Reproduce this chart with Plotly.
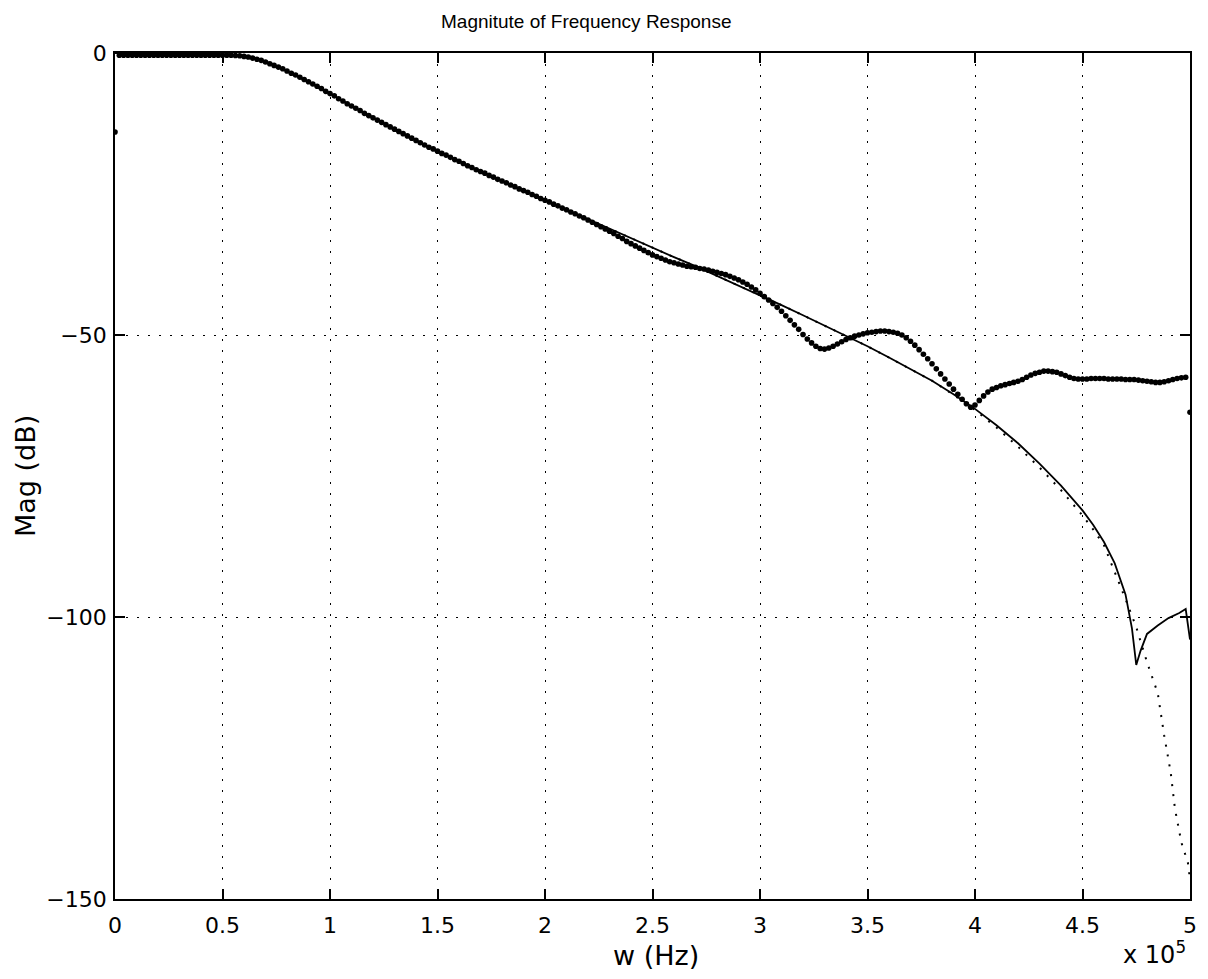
import plotly.graph_objects as go

# ---------------- data ----------------
# measured response: samples every 2 kHz from 0 to 500 kHz
meas_freq_khz = list(range(0, 501, 2))
meas_db = [
    -14.0,
    -0.4, -0.4, -0.4, -0.4, -0.4, -0.4, -0.4, -0.4, -0.4, -0.4,
    -0.4, -0.4, -0.4, -0.4, -0.4, -0.4, -0.4, -0.4, -0.4, -0.4,
    -0.4, -0.4, -0.4, -0.4, -0.4, -0.4, -0.4, -0.45,
    -0.5, -0.6, -0.7, -0.9, -1.1, -1.3, -1.6, -1.9, -2.2, -2.5,
    -2.8, -3.2, -3.6, -3.9, -4.3, -4.7, -5.1, -5.5, -5.9, -6.3,
    -6.8, -7.2,
    -7.6, -8.1, -8.5, -9.0, -9.4, -9.8, -10.2, -10.7, -11.1, -11.5,
    -11.9, -12.3, -12.7, -13.1, -13.5, -13.9, -14.3, -14.7, -15.1, -15.5,
    -15.9, -16.3, -16.7, -17.0, -17.4, -17.8, -18.1, -18.5, -18.9, -19.2,
    -19.6, -20.0, -20.3, -20.7, -21.0, -21.3, -21.7, -22.0, -22.4, -22.7,
    -23.0, -23.4, -23.7, -24.1, -24.4, -24.7, -25.1, -25.4, -25.8, -26.1,
    -26.4, -26.8, -27.1, -27.5, -27.8, -28.2, -28.5, -28.9, -29.2, -29.6,
    -30.0, -30.4, -30.8, -31.2, -31.6, -32.0, -32.5, -32.9, -33.4, -33.8,
    -34.2, -34.6, -35.0, -35.4, -35.8, -36.1, -36.4, -36.7, -37.0, -37.2,
    -37.4, -37.6, -37.8, -37.9, -38.0, -38.2, -38.3, -38.5, -38.7, -38.9,
    -39.1, -39.3, -39.6, -39.9, -40.2, -40.6, -41.0, -41.5, -42.0, -42.6,
    -43.2, -43.8, -44.4, -45.1, -45.8, -46.6, -47.4, -48.2, -49.0, -49.9,
    -50.7, -51.4, -52.0, -52.4, -52.5, -52.3, -52.0, -51.6, -51.2, -50.8,
    -50.5, -50.2, -50.0, -49.8, -49.6, -49.5, -49.4, -49.3, -49.3, -49.4,
    -49.5, -49.7, -50.0, -50.5, -51.1, -51.8, -52.6, -53.4, -54.2, -55.1,
    -56.0, -56.9, -57.8, -58.7, -59.6, -60.5, -61.4, -62.2, -62.8, -62.4,
    -61.6, -60.8, -60.1, -59.6, -59.3, -59.0, -58.8, -58.6, -58.4, -58.2,
    -57.9, -57.5, -57.1, -56.8, -56.6, -56.4, -56.4, -56.5, -56.6, -56.9,
    -57.2, -57.5, -57.7, -57.8, -57.8, -57.8, -57.7, -57.7, -57.7, -57.7,
    -57.8, -57.8, -57.8, -57.8, -57.9, -57.9, -57.9, -58.0, -58.1, -58.2,
    -58.3, -58.4, -58.4, -58.3, -58.1, -57.9, -57.7, -57.6, -57.5, -63.7,
]

# fitted model (solid line)
model_freq_khz = [0, 10, 20, 30, 40, 50, 55, 60, 65, 70, 75, 80, 85, 90, 95,
                  100, 110, 120, 130, 140, 150, 160, 170, 180, 190, 200, 210,
                  220, 230, 240, 250, 260, 270, 280, 290, 300, 310, 320, 330,
                  340, 350, 360, 370, 380, 390, 400, 410, 420, 430, 440, 450,
                  455, 460, 465, 470, 473, 475, 477, 480, 485, 490, 495, 498, 500]
model_db = [0.0, 0.0, 0.0, -0.05, -0.1, -0.2, -0.3, -0.5, -0.9, -1.5, -2.3,
            -3.2, -4.2, -5.1, -6.2, -7.2, -9.4, -11.5, -13.5, -15.5, -17.4,
            -19.2, -21.0, -22.7, -24.4, -26.1, -27.7, -29.5, -31.2, -32.8,
            -34.5, -36.2, -37.8, -39.5, -41.2, -42.9, -44.7, -46.5, -48.3,
            -50.1, -52.0, -54.0, -56.0, -58.1, -60.5, -63.1, -66.0, -69.2,
            -72.8, -76.7, -81.1, -83.7, -86.7, -90.5, -96.0, -102.0, -108.5,
            -106.0, -103.0, -101.5, -100.2, -99.3, -98.6, -104.0]

# ideal response (dotted line)
ideal_freq_khz = [0, 10, 20, 30, 40, 50, 55, 60, 65, 70, 75, 80, 85, 90, 95,
                  100, 110, 120, 130, 140, 150, 160, 170, 180, 190, 200, 210,
                  220, 230, 240, 250, 260, 270, 280, 290, 300, 310, 320, 330,
                  340, 350, 360, 370, 380, 390, 400, 410, 420, 430, 440, 450,
                  455, 460, 465, 470, 475, 480, 485, 488, 491, 493, 496, 499, 500]
ideal_db = [0.0, 0.0, 0.0, -0.05, -0.1, -0.2, -0.3, -0.5, -0.9, -1.5, -2.3,
            -3.2, -4.2, -5.1, -6.2, -7.2, -9.4, -11.5, -13.5, -15.5, -17.4,
            -19.2, -21.0, -22.7, -24.4, -26.1, -27.7, -29.5, -31.2, -32.8,
            -34.5, -36.2, -37.8, -39.5, -41.2, -42.9, -44.7, -46.5, -48.3,
            -50.1, -52.0, -54.0, -56.0, -58.1, -60.6, -63.3, -66.4, -69.8,
            -73.5, -77.5, -82.0, -84.5, -87.3, -92.0, -96.8, -101.8, -108.0,
            -113.5, -121.0, -127.5, -134.0, -140.0, -143.5, -146.5]

x_tick_vals_khz = [0, 50, 100, 150, 200, 250, 300, 350, 400, 450, 500]
x_tick_text = ["0", "0.5", "1", "1.5", "2", "2.5", "3", "3.5", "4", "4.5", "5"]
y_tick_vals = [-150, -100, -50, 0]
y_tick_text = ["\u2212150", "\u2212100", "\u221250", "0"]

title_text = "Magnitute of Frequency Response"
x_label = "w (Hz)"
y_label = "Mag (dB)"
x_exponent = "x 10<sup>5</sup>"

# ---------------- figure ----------------
to_hz = lambda v: [k * 1000 for k in v]

fig = go.Figure()
fig.add_trace(go.Scatter(
    x=to_hz(ideal_freq_khz), y=ideal_db, mode="lines",
    line=dict(color="black", width=2, dash="2px,8px"),
    showlegend=False, hoverinfo="skip"))
fig.add_trace(go.Scatter(
    x=to_hz(model_freq_khz), y=model_db, mode="lines",
    line=dict(color="black", width=1.8),
    showlegend=False))
fig.add_trace(go.Scatter(
    x=to_hz(meas_freq_khz), y=meas_db, mode="markers",
    marker=dict(color="black", size=5.6, line=dict(width=0)),
    showlegend=False))

FONT = "DejaVu Sans"
axis_common = dict(
    showline=True, linecolor="black", linewidth=1.8, mirror="ticks",
    ticks="inside", ticklen=10, tickwidth=1.5, tickcolor="black",
    showgrid=True, gridcolor="black", gridwidth=1.3, griddash="1.5px,9.5px",
    zeroline=False,
    tickfont=dict(family=FONT, size=22, color="black"),
)

fig.update_xaxes(range=[0, 500000], tickvals=to_hz(x_tick_vals_khz),
                 ticktext=x_tick_text, ticklabelstandoff=6, **axis_common)
fig.update_yaxes(range=[-150, 0], tickvals=y_tick_vals,
                 ticktext=y_tick_text, ticklabelstandoff=2, **axis_common)

# page body has an 8px margin: size the figure so the plot area lands where
# the reference has it (x 115..1190, y 53..899 in the window)
fig.update_layout(
    width=1200, height=971,
    margin=dict(l=107, r=18, t=45, b=80, pad=0),
    paper_bgcolor="white", plot_bgcolor="white",
    showlegend=False,
    annotations=[
        dict(text=title_text, xref="paper", yref="paper", x=0.438, y=1.0,
             yshift=32, xanchor="center", yanchor="middle", showarrow=False,
             font=dict(family="Liberation Sans", size=19, color="black")),
        dict(text=x_label, xref="paper", yref="paper", x=0.503, y=0.0,
             yshift=-56, xanchor="center", yanchor="middle", showarrow=False,
             font=dict(family=FONT, size=27, color="black")),
        dict(text=y_label, xref="paper", yref="paper", x=0.0, y=0.5,
             xshift=-90, xanchor="center", yanchor="middle", showarrow=False,
             textangle=-90,
             font=dict(family=FONT, size=27, color="black")),
        dict(text=x_exponent, xref="paper", yref="paper", x=1.0, y=0.0,
             xshift=-36, yshift=-54, xanchor="center", yanchor="middle",
             showarrow=False,
             font=dict(family=FONT, size=24, color="black")),
    ],
)

fig.write_html("out.html")
